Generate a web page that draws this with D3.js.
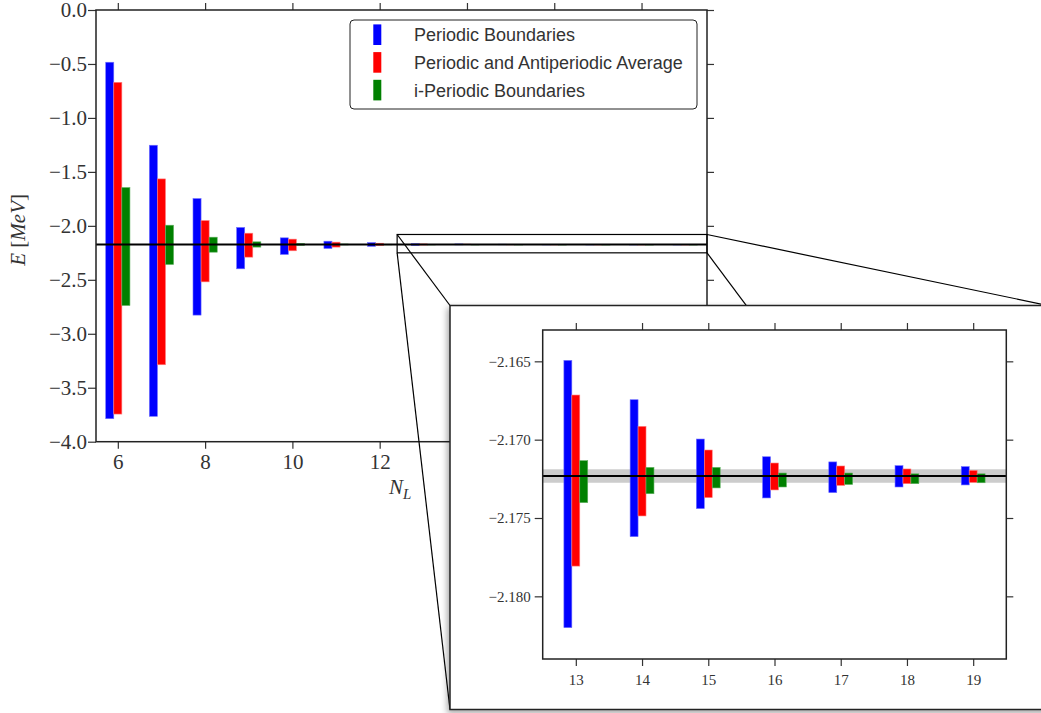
<!DOCTYPE html>
<html>
<head>
<meta charset="utf-8">
<script src="https://cdn.jsdelivr.net/npm/d3@7"></script>
<style>
  html, body { margin: 0; padding: 0; background: #fff; }
  svg { display: block; }
</style>
</head>
<body>
<svg id="chart" width="1041" height="713"></svg>
<script>
// Lattice sizes
const NL = [6, 7, 8, 9, 10, 11, 12, 13, 14, 15, 16, 17, 18, 19];

// Energy ranges [MeV]: upper and lower ends of each bar
const periodicHi = [-0.484, -1.253, -1.747, -2.015, -2.111, -2.142, -2.155, -2.16494, -2.16745, -2.16996, -2.17109, -2.17142, -2.17166, -2.17172];
const periodicLo = [-3.787, -3.765, -2.827, -2.398, -2.265, -2.210, -2.190, -2.18200, -2.17619, -2.17440, -2.17372, -2.17338, -2.17302, -2.17289];
const averageHi  = [-0.670, -1.565, -1.951, -2.068, -2.123, -2.151, -2.161, -2.16715, -2.16915, -2.17066, -2.17149, -2.17168, -2.17187, -2.17196];
const averageLo  = [-3.744, -3.287, -2.519, -2.290, -2.231, -2.197, -2.183, -2.17807, -2.17487, -2.17370, -2.17321, -2.17292, -2.17281, -2.17273];
const iPeriodicHi = [-1.645, -1.994, -2.105, -2.148, -2.163, -2.168, -2.1705, -2.17134, -2.17177, -2.17177, -2.17213, -2.17213, -2.17218, -2.17218];
const iPeriodicLo = [-2.738, -2.358, -2.244, -2.197, -2.181, -2.177, -2.1745, -2.17402, -2.17345, -2.17308, -2.17302, -2.17286, -2.17281, -2.17275];

// Infinite-volume reference energy and its uncertainty band
const eInf = -2.17232;
const eInfErr = 0.00043;

// Tick values
const mainXTicks = [6, 8, 10, 12, 14, 16, 18];
const mainYTicks = [0.0, -0.5, -1.0, -1.5, -2.0, -2.5, -3.0, -3.5, -4.0];
const insetXTicks = [13, 14, 15, 16, 17, 18, 19];
const insetYTicks = [-2.165, -2.170, -2.175, -2.180];

const seriesNames = ["Periodic Boundaries", "Periodic and Antiperiodic Average", "i-Periodic Boundaries"];
const seriesColors = ["#0000ff", "#ff0000", "#008000"];
const seriesEdge = ["#7070ff", "#ff8080", "#60b060"];
const seriesHi = [periodicHi, averageHi, iPeriodicHi];
const seriesLo = [periodicLo, averageLo, iPeriodicLo];

const svg = d3.select("#chart");
const minus = s => s.replace("-", "\u2212");
const defs = svg.append("defs");

// drop shadow for the magnified panel
defs.append("filter").attr("id", "panelShadow")
  .attr("x", "-5%").attr("y", "-5%").attr("width", "110%").attr("height", "110%")
  .append("feDropShadow").attr("dx", -2).attr("dy", 3).attr("stdDeviation", 3)
  .attr("flood-color", "#000").attr("flood-opacity", 0.35);

// Floating bars (hi..lo) for every lattice size accepted by `keep`
function drawBars(g, xs, ys, keep, offsets, width, clipId) {
  const rows = [];
  NL.forEach((n, i) => {
    if (!keep(n)) return;
    seriesHi.forEach((hi, s) => rows.push({ n, s, hi: hi[i], lo: seriesLo[s][i] }));
  });
  g.append("g").attr("clip-path", `url(#${clipId})`)
    .selectAll("rect").data(rows).join("rect")
    .attr("x", d => xs(d.n + offsets[d.s] - width / 2))
    .attr("width", d => xs(d.n + width / 2) - xs(d.n - width / 2))
    .attr("y", d => ys(d.hi))
    .attr("height", d => Math.max(0.6, ys(d.lo) - ys(d.hi)))
    .attr("fill", d => seriesColors[d.s])
    .attr("stroke", d => seriesEdge[d.s])
    .attr("stroke-width", 0.6);
}

// Reference band + line across an axes box
function drawReference(g, ys, box, band, lineWidth) {
  if (band) {
    g.append("rect")
      .attr("x", box.left).attr("width", box.right - box.left)
      .attr("y", ys(eInf + eInfErr)).attr("height", ys(eInf - eInfErr) - ys(eInf + eInfErr))
      .attr("fill", "#cccccc");
  }
}
function drawRefLine(g, ys, box, lineWidth) {
  g.append("line")
    .attr("x1", box.left).attr("x2", box.right)
    .attr("y1", ys(eInf)).attr("y2", ys(eInf))
    .attr("stroke", "#000").attr("stroke-width", lineWidth);
}

function styleAxis(g, font) {
  g.select(".domain").remove();
  g.selectAll(".tick line").attr("stroke", "#333").attr("stroke-width", 1.2);
  g.selectAll(".tick text").style("font", font).attr("fill", "#333");
}

function drawFrameAxes(xs, ys, box, xTicks, yTicks, xFmt, yFmt, font, padX, padY) {
  const b = svg.append("g").attr("transform", `translate(0,${box.bottom})`)
    .call(d3.axisBottom(xs).tickValues(xTicks).tickSize(7).tickPadding(padX).tickFormat(xFmt));
  styleAxis(b, font);
  const t = svg.append("g").attr("transform", `translate(0,${box.top})`)
    .call(d3.axisTop(xs).tickValues(xTicks).tickSize(7).tickFormat(""));
  styleAxis(t, font);
  const l = svg.append("g").attr("transform", `translate(${box.left},0)`)
    .call(d3.axisLeft(ys).tickValues(yTicks).tickSize(8).tickPadding(padY).tickFormat(yFmt));
  styleAxis(l, font);
  const r = svg.append("g").attr("transform", `translate(${box.right},0)`)
    .call(d3.axisRight(ys).tickValues(yTicks).tickSize(7).tickFormat(""));
  styleAxis(r, font);
  svg.append("rect")
    .attr("x", box.left).attr("y", box.top)
    .attr("width", box.right - box.left).attr("height", box.bottom - box.top)
    .attr("fill", "none").attr("stroke", "#222").attr("stroke-width", 1.5);
}

// ---------- main axes ----------
const main = { left: 96, top: 10, right: 707, bottom: 441.7 };
const x = d3.scaleLinear().domain([5.5, 19.5]).range([main.left, main.right]);
const y = d3.scaleLinear().domain([-4, 0]).range([main.bottom, main.top]);

defs.append("clipPath").attr("id", "mainClip").append("rect")
  .attr("x", main.left).attr("y", main.top)
  .attr("width", main.right - main.left).attr("height", main.bottom - main.top);

const gMain = svg.append("g");
drawReference(gMain, y, main, true);
drawBars(gMain, x, y, () => true, [-0.185, 0, 0.185], 0.185, "mainClip");
drawRefLine(gMain, y, main, 2);

drawFrameAxes(x, y, main, mainXTicks, mainYTicks, d3.format("d"),
  d => minus(d3.format(".1f")(d)), "21px 'Liberation Serif', 'DejaVu Serif', serif", 5, 1);

// axis labels
const yLab = svg.append("text")
  .attr("transform", `translate(25,${(main.top + main.bottom) / 2 + 4}) rotate(-90)`)
  .attr("text-anchor", "middle")
  .style("font", "21px 'Liberation Serif', 'DejaVu Serif', serif").attr("fill", "#333");
yLab.append("tspan").attr("font-style", "italic").text("E");
yLab.append("tspan").text(" [");
yLab.append("tspan").attr("font-style", "italic").text("MeV");
yLab.append("tspan").text("]");

const xLab = svg.append("text")
  .attr("x", 389).attr("y", 494)
  .style("font", "21px 'Liberation Serif', 'DejaVu Serif', serif").attr("fill", "#333");
xLab.append("tspan").attr("font-style", "italic").text("N");
xLab.append("tspan").attr("font-style", "italic").attr("font-size", "15px").attr("dy", 5).text("L");

// legend
const legend = svg.append("g");
legend.append("rect")
  .attr("x", 350).attr("y", 20).attr("width", 347).attr("height", 89).attr("rx", 4)
  .attr("fill", "#fff").attr("stroke", "#222").attr("stroke-width", 1);
seriesNames.forEach((name, i) => {
  const cy = 34.7 + i * 27.7;
  legend.append("rect").attr("x", 373.3).attr("y", cy - 10.3).attr("width", 8).attr("height", 20.6)
    .attr("fill", seriesColors[i]);
  legend.append("text").attr("x", 414).attr("y", cy + 6.5)
    .style("font", "18px 'Liberation Sans', 'DejaVu Sans', sans-serif").attr("fill", "#333")
    .text(name);
});

// ---------- zoom indicator ----------
const zoomX = [12.4, 19.5];
const zoomY = [-2.08, -2.25];
const zx0 = x(zoomX[0]), zx1 = x(zoomX[1]), zy0 = y(zoomY[0]), zy1 = y(zoomY[1]);
svg.append("rect").attr("x", zx0).attr("y", zy0).attr("width", zx1 - zx0).attr("height", zy1 - zy0)
  .attr("fill", "none").attr("stroke", "#000").attr("stroke-width", 1.2);

const panel = { left: 450, top: 305.5, right: 1048, bottom: 709.5 };
const connectors = [
  [zx0, zy0, panel.left, panel.top],
  [zx0, zy1, panel.left, panel.bottom],
  [zx1, zy0, panel.right, panel.top],
  [zx1, zy1, panel.right, panel.bottom]
];
svg.append("g").selectAll("line").data(connectors).join("line")
  .attr("x1", d => d[0]).attr("y1", d => d[1]).attr("x2", d => d[2]).attr("y2", d => d[3])
  .attr("stroke", "#000").attr("stroke-width", 1.2);

// ---------- magnified panel ----------
svg.append("rect")
  .attr("x", panel.left).attr("y", panel.top)
  .attr("width", panel.right - panel.left).attr("height", panel.bottom - panel.top)
  .attr("fill", "#fff").attr("stroke", "#222").attr("stroke-width", 1.5)
  .attr("filter", "url(#panelShadow)");

const ins = { left: 542.7, top: 330, right: 1006.3, bottom: 659 };
const xi = d3.scaleLinear().domain([12.5, 19.5]).range([ins.left, ins.right]);
const yi = d3.scaleLinear().domain([-2.184, -2.163]).range([ins.bottom, ins.top]);

defs.append("clipPath").attr("id", "insetClip").append("rect")
  .attr("x", ins.left).attr("y", ins.top)
  .attr("width", ins.right - ins.left).attr("height", ins.bottom - ins.top);

const gIns = svg.append("g");
drawReference(gIns, yi, ins, true);
drawBars(gIns, xi, yi, n => n >= 13, [-0.12, 0, 0.12], 0.12, "insetClip");
drawRefLine(gIns, yi, ins, 1.8);

drawFrameAxes(xi, yi, ins, insetXTicks, insetYTicks, d3.format("d"),
  d => minus(d3.format(".3f")(d)), "15px 'Liberation Serif', 'DejaVu Serif', serif", 8, 4);
</script>
</body>
</html>
